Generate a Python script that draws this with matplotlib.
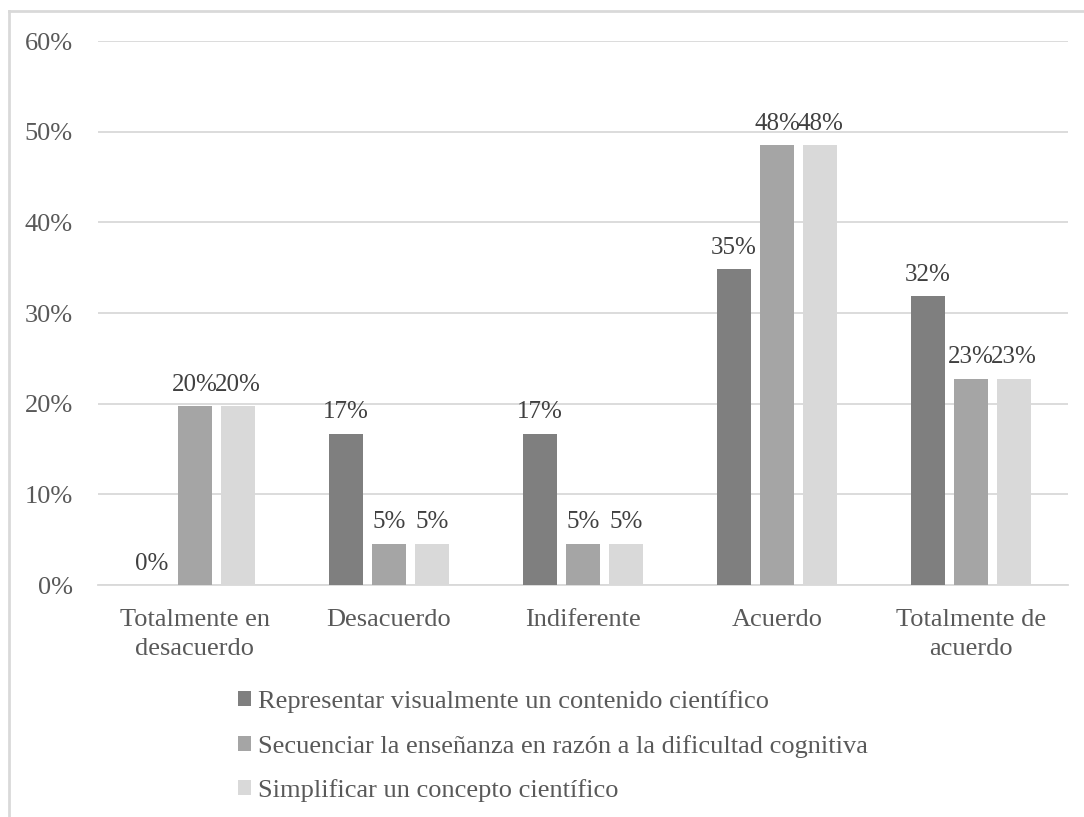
import numpy as np
import matplotlib.pyplot as plt
from matplotlib.lines import Line2D

categories = ['Totalmente en\ndesacuerdo', 'Desacuerdo', 'Indiferente', 'Acuerdo',
              'Totalmente de\nacuerdo']
series_names = ['Representar visualmente un contenido científico',
                'Secuenciar la enseñanza en razón a la dificultad cognitiva',
                'Simplificar un concepto científico']
# share of answers in percent (66 respondents)
representar = [0.0, 16.67, 16.67, 34.85, 31.82]
secuenciar = [19.70, 4.55, 4.55, 48.48, 22.73]
simplificar = [19.70, 4.55, 4.55, 48.48, 22.73]
yticks = [0, 10, 20, 30, 40, 50, 60]

colors = ['#7f7f7f', '#a5a5a5', '#d9d9d9']
plt.rcParams['font.family'] = ['Liberation Serif', 'DejaVu Serif']
fs = 19

fig = plt.figure(figsize=(10.84, 8.17), dpi=100)
ax = fig.add_axes([98 / 1084, 1 - 585 / 817, 970 / 1084, 544 / 817])

x = np.arange(len(categories))
width = 0.175
step = 0.222
for i, (vals, name) in enumerate(zip([representar, secuenciar, simplificar], series_names)):
    pos = x + (i - 1) * step
    ax.bar(pos, vals, width, color=colors[i], label=name, zorder=3)
    for p, v in zip(pos, vals):
        ax.annotate('{:.0f}%'.format(v), (p, v), xytext=(0, 7.5), textcoords='offset points',
                    ha='center', va='bottom', fontsize=18, color='#404040')

ax.set_xlim(-0.5, len(categories) - 0.5)
ax.set_ylim(0, 60)
ax.set_yticks(yticks)
ax.set_yticklabels(['{}%'.format(t) for t in yticks])
ax.set_xticks(x)
ax.set_xticklabels(categories, linespacing=1.45)
ax.grid(axis='y', color='#d9d9d9', linewidth=1.3, zorder=0)
for s in ['top', 'right', 'left']:
    ax.spines[s].set_visible(False)
ax.spines['bottom'].set_color('#d9d9d9')
ax.spines['bottom'].set_linewidth(1.3)
ax.tick_params(axis='y', length=0, pad=18, labelsize=fs, labelcolor='#595959')
ax.tick_params(axis='x', length=0, pad=17, labelsize=fs, labelcolor='#595959')

leg = fig.legend(loc='upper left', bbox_to_anchor=(238 / 1084, 1 - 690 / 817), frameon=False,
                 fontsize=fs, handlelength=0.5, handleheight=0.5, handletextpad=0.25,
                 labelspacing=0.82, borderaxespad=0, borderpad=0)
for t in leg.get_texts():
    t.set_color('#595959')

# chart frame (left and top edges)
fig.add_artist(Line2D([9 / 1084, 9 / 1084], [0, 1 - 11 / 817], color='#d9d9d9', linewidth=2))
fig.add_artist(Line2D([9 / 1084, 1], [1 - 11 / 817, 1 - 11 / 817], color='#d9d9d9', linewidth=2))

fig.savefig('out.png', dpi=100)
